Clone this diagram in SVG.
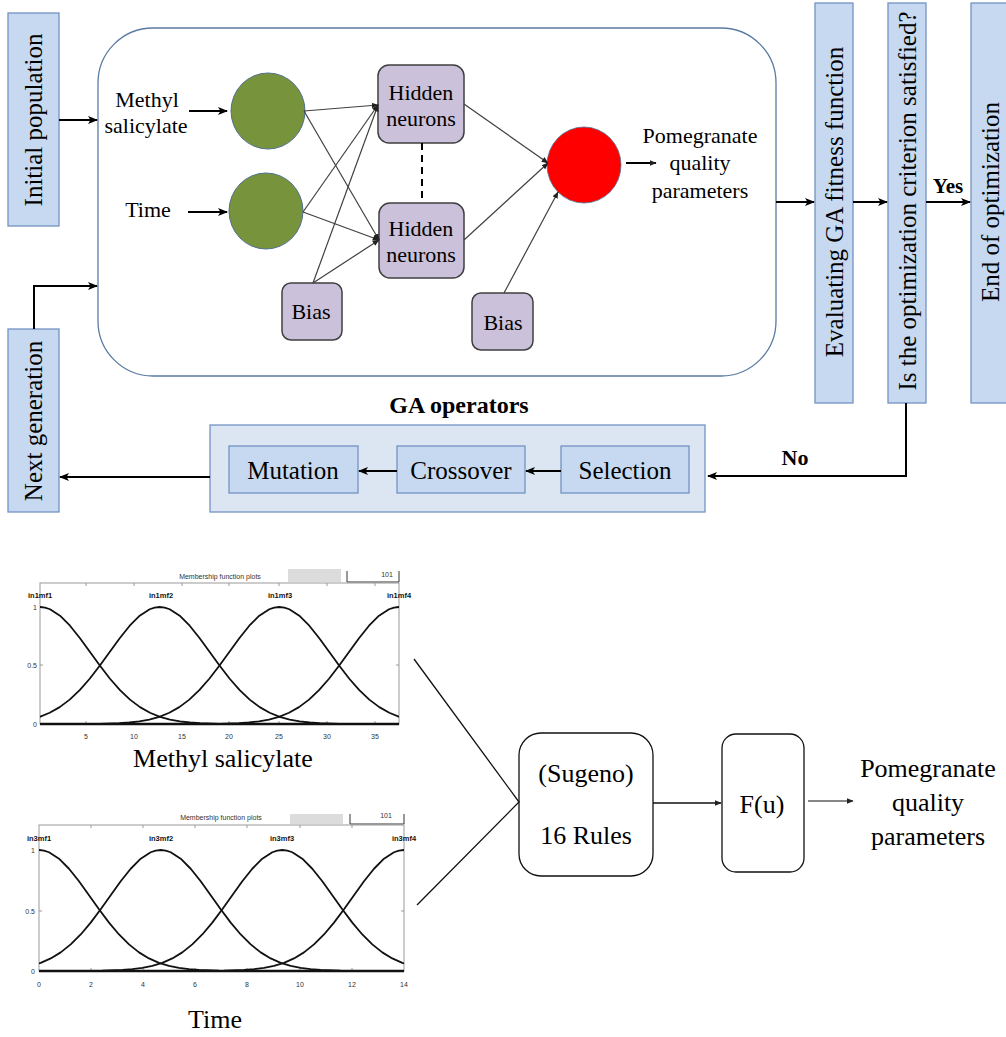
<svg xmlns="http://www.w3.org/2000/svg" width="1006" height="1037" viewBox="0 0 1006 1037">
<style>
.bx{fill:#c6d9f1;stroke:#7393c3;stroke-width:1.3}
.pb{fill:#ccc1da;stroke:#3f3f3f;stroke-width:1.5}
.t{font-family:"Liberation Serif","Times New Roman",serif;fill:#000}
.b{font-weight:bold}
.c{stroke:#000;stroke-width:2;fill:none}
.nn{stroke:#404040;stroke-width:1.2;fill:none}
.mf{fill:none;stroke:#111;stroke-width:1.8;stroke-linejoin:round}
.sm{font-family:"Liberation Sans",Arial,sans-serif;font-size:7px;fill:#333}
.ml{font-family:"Liberation Sans",Arial,sans-serif;font-size:7.5px;font-weight:bold;fill:#111}
.fr{stroke:#999;stroke-width:1;fill:none}
</style>
<defs>
<marker id="ah" viewBox="0 0 10 10" refX="9" refY="5" markerWidth="10" markerHeight="10" markerUnits="userSpaceOnUse" orient="auto"><path d="M0,1 L10,5 L0,9 L2.5,5 z" fill="#000"/></marker>
<marker id="as" viewBox="0 0 10 10" refX="9" refY="5" markerWidth="7" markerHeight="7" markerUnits="userSpaceOnUse" orient="auto"><path d="M0,1 L10,5 L0,9 z" fill="#222"/></marker>
<path id="g1" d="M-360,724 L-200,724 L-180,723.8 L-160,723.18 L-150,722.5 L-140,721.38 L-130,719.58 L-120,716.82 L-110,712.78 L-100,707.14 L-90,699.64 L-80,690.14 L-70,678.72 L-60,665.76 L-50,651.92 L-40,638.19 L-30,625.72 L-20,615.73 L-10,609.25 L-5,607.57 L0,607 L5,607.57 L10,609.25 L20,615.73 L30,625.72 L40,638.19 L50,651.92 L60,665.76 L70,678.72 L80,690.14 L90,699.64 L100,707.14 L110,712.78 L120,716.82 L130,719.58 L140,721.38 L150,722.5 L160,723.18 L180,723.8 L200,724 L360,724"/>
<path id="g2" d="M-370,971 L-200,970.93 L-180,970.72 L-160,970 L-150,969.2 L-140,967.9 L-130,965.87 L-120,962.82 L-110,958.42 L-100,952.37 L-90,944.4 L-80,934.46 L-70,922.61 L-60,909.29 L-50,895.19 L-40,881.3 L-30,868.75 L-20,858.72 L-10,852.24 L-5,850.57 L0,850 L5,850.57 L10,852.24 L20,858.72 L30,868.75 L40,881.3 L50,895.19 L60,909.29 L70,922.61 L80,934.46 L90,944.4 L100,952.37 L110,958.42 L120,962.82 L130,965.87 L140,967.9 L150,969.2 L160,970 L180,970.72 L200,970.93 L370,971"/>
<clipPath id="cp1"><rect x="40" y="598" width="359" height="129"/></clipPath>
<clipPath id="cp2"><rect x="39" y="842" width="365" height="132"/></clipPath>
</defs>
<rect width="1006" height="1037" fill="#fff"/>

<!-- Top GA/ANN flow -->
<g id="initial-population"><rect class="bx" x="8" y="13" width="51" height="213"/><text class="t" font-size="25" transform="translate(42,120) rotate(-90)" text-anchor="middle">Initial population</text></g>
<g id="next-generation"><rect class="bx" x="8" y="329" width="51" height="183"/><text class="t" font-size="25" transform="translate(42,421) rotate(-90)" text-anchor="middle">Next generation</text></g>
<g id="ann-frame"><rect x="98" y="28" width="678" height="348" rx="55" ry="55" fill="#fff" stroke="#5b7ba3" stroke-width="1.3"/></g>
<g id="label-methyl"><text class="t" font-size="22" text-anchor="middle"><tspan x="147" y="107">Methyl</tspan><tspan x="146" y="133">salicylate</tspan></text></g>
<g id="label-time"><text class="t" font-size="22" x="148" y="217" text-anchor="middle">Time</text></g>
<g id="input1"><ellipse cx="268" cy="111" rx="37" ry="38" fill="#77933c" stroke="#4f6f8f" stroke-width="1"/></g>
<g id="input2"><ellipse cx="266" cy="211" rx="37" ry="38" fill="#77933c" stroke="#4f6f8f" stroke-width="1"/></g>
<g id="hidden1"><rect class="pb" x="378" y="65" width="86" height="78" rx="11"/><text class="t" font-size="22" text-anchor="middle"><tspan x="421" y="100">Hidden</tspan><tspan x="421" y="126">neurons</tspan></text></g>
<g id="hidden2"><rect class="pb" x="379" y="203" width="85" height="75" rx="11"/><text class="t" font-size="22" text-anchor="middle"><tspan x="421" y="236">Hidden</tspan><tspan x="421" y="262">neurons</tspan></text></g>
<g id="bias1"><rect class="pb" x="282" y="283" width="60" height="57" rx="9"/><text class="t" font-size="22" x="311" y="319" text-anchor="middle">Bias</text></g>
<g id="bias2"><rect class="pb" x="472" y="293" width="61" height="57" rx="9"/><text class="t" font-size="22" x="503" y="330" text-anchor="middle">Bias</text></g>
<g id="output"><ellipse cx="584" cy="165" rx="37" ry="38" fill="#ff0000" stroke="#4f6f8f" stroke-width="0.8"/></g>
<g id="label-output"><text class="t" font-size="22" text-anchor="middle"><tspan x="700" y="143">Pomegranate</tspan><tspan x="700" y="170">quality</tspan><tspan x="700" y="198">parameters</tspan></text></g>
<g id="evaluating"><rect class="bx" x="815" y="3" width="38" height="400"/><text class="t" font-size="25" transform="translate(843,202) rotate(-90)" text-anchor="middle">Evaluating GA fitness function</text></g>
<g id="criterion"><rect class="bx" x="888" y="3" width="38" height="400"/><text class="t" font-size="25" transform="translate(916,201) rotate(-90)" text-anchor="middle">Is the optimization criterion satisfied?</text></g>
<g id="end"><rect class="bx" x="971" y="3" width="40" height="400"/><text class="t" font-size="25" transform="translate(999,202) rotate(-90)" text-anchor="middle">End of optimization</text></g>
<g id="label-yes"><text class="t b" font-size="21" x="948" y="193" text-anchor="middle">Yes</text></g>
<g id="label-no"><text class="t b" font-size="22" x="795" y="465" text-anchor="middle">No</text></g>
<g id="label-ga"><text class="t b" font-size="24" x="459" y="413" text-anchor="middle">GA operators</text></g>
<g id="ga-operators"><rect x="210" y="425" width="495" height="87" fill="#dce6f2" stroke="#7393c3" stroke-width="1.3"/></g>
<g id="mutation"><rect class="bx" x="229" y="446" width="129" height="47"/><text class="t" font-size="25" x="293" y="479" text-anchor="middle">Mutation</text></g>
<g id="crossover"><rect class="bx" x="397" y="446" width="128" height="47"/><text class="t" font-size="25" x="461" y="479" text-anchor="middle">Crossover</text></g>
<g id="selection"><rect class="bx" x="561" y="446" width="128" height="47"/><text class="t" font-size="25" x="625" y="479" text-anchor="middle">Selection</text></g>

<g id="connectors">
<line class="c" x1="59" y1="120" x2="97" y2="120" marker-end="url(#ah)"/>
<polyline class="c" points="34,329 34,286 97,286" marker-end="url(#ah)"/>
<line class="c" x1="189" y1="111" x2="227" y2="111" marker-end="url(#ah)"/>
<line class="c" x1="188" y1="212" x2="227" y2="212" marker-end="url(#ah)"/>
<line class="nn" x1="304" y1="111" x2="378" y2="105" marker-end="url(#as)"/>
<line class="nn" x1="304" y1="111" x2="379" y2="240" marker-end="url(#as)"/>
<line class="nn" x1="303" y1="212" x2="378" y2="105" marker-end="url(#as)"/>
<line class="nn" x1="303" y1="212" x2="379" y2="240" marker-end="url(#as)"/>
<line class="nn" x1="313" y1="283" x2="378" y2="105" marker-end="url(#as)"/>
<line class="nn" x1="313" y1="283" x2="379" y2="240" marker-end="url(#as)"/>
<line x1="422" y1="143" x2="422" y2="203" stroke="#000" stroke-width="2" stroke-dasharray="7,5"/>
<line class="nn" x1="464" y1="104" x2="548" y2="163" marker-end="url(#as)"/>
<line class="nn" x1="464" y1="240" x2="548" y2="163" marker-end="url(#as)"/>
<line class="nn" x1="504" y1="293" x2="558" y2="192" marker-end="url(#as)"/>
<line class="c" x1="626" y1="163" x2="656" y2="163" stroke-width="1.5" marker-end="url(#as)"/>
<line class="c" x1="776" y1="202" x2="814" y2="202" marker-end="url(#ah)"/>
<line class="c" x1="853" y1="202" x2="887" y2="202" marker-end="url(#ah)"/>
<line class="c" x1="926" y1="202" x2="970" y2="202" marker-end="url(#ah)"/>
<polyline class="c" points="906,403 906,476 708,476" marker-end="url(#ah)"/>
<line class="c" x1="561" y1="471" x2="526" y2="471" marker-end="url(#ah)"/>
<line class="c" x1="397" y1="471" x2="359" y2="471" marker-end="url(#ah)"/>
<line class="c" x1="210" y1="477" x2="60" y2="477" marker-end="url(#ah)"/>
</g>

<!-- Membership function plot 1 -->
<g id="mf-plot-methyl">
<text class="sm" x="220" y="579" text-anchor="middle" fill="#222">Membership function plots</text>
<rect x="288" y="569" width="53" height="13" fill="#dcdcdc"/>
<polyline points="347,571 347,582 399,582 399,571" fill="none" stroke="#333" stroke-width="1"/>
<text class="sm" x="387" y="577" text-anchor="middle" font-size="9">101</text>
<rect class="fr" x="40" y="583" width="359" height="141"/>
<path class="fr" d="M86,583v3M134,583v3M182,583v3M229,583v3M279,583v3M327,583v3M375,583v3M86,724v-3M134,724v-3M182,724v-3M229,724v-3M279,724v-3M327,724v-3M375,724v-3M40,607h3M40,665h3M399,607h-3M399,665h-3"/>
<text class="ml" x="28" y="598">in1mf1</text>
<text class="ml" x="161" y="598" text-anchor="middle">in1mf2</text>
<text class="ml" x="280" y="598" text-anchor="middle">in1mf3</text>
<text class="ml" x="399" y="598" text-anchor="middle">in1mf4</text>
<text class="sm" x="37" y="610" text-anchor="end">1</text>
<text class="sm" x="37" y="668" text-anchor="end">0.5</text>
<text class="sm" x="37" y="727" text-anchor="end">0</text>
<g class="sm" text-anchor="middle"><text x="86" y="739">5</text><text x="134" y="739">10</text><text x="182" y="739">15</text><text x="229" y="739">20</text><text x="279" y="739">25</text><text x="327" y="739">30</text><text x="375" y="739">35</text></g>
<g clip-path="url(#cp1)">
<use href="#g1" class="mf" transform="translate(40,0)"/>
<use href="#g1" class="mf" transform="translate(159.7,0)"/>
<use href="#g1" class="mf" transform="translate(279.3,0)"/>
<use href="#g1" class="mf" transform="translate(399,0)"/>
</g>
<line x1="40" y1="724" x2="399" y2="724" stroke="#111" stroke-width="2.5"/>
<text class="t" font-size="26" x="223" y="767" text-anchor="middle">Methyl salicylate</text>
</g>

<!-- Membership function plot 2 -->
<g id="mf-plot-time">
<text class="sm" x="221" y="820" text-anchor="middle" fill="#222">Membership function plots</text>
<rect x="290" y="814" width="53" height="10" fill="#dcdcdc"/>
<polyline points="350,814 350,824 404,824 404,814" fill="none" stroke="#333" stroke-width="1"/>
<text class="sm" x="386" y="818" text-anchor="middle" font-size="9">101</text>
<rect class="fr" x="39" y="825" width="365" height="146"/>
<path class="fr" d="M91,825v3M143,825v3M195,825v3M247,825v3M300,825v3M352,825v3M91,971v-3M143,971v-3M195,971v-3M247,971v-3M300,971v-3M352,971v-3M39,850h3M39,911h3M404,850h-3M404,911h-3"/>
<text class="ml" x="39" y="841" text-anchor="middle">in3mf1</text>
<text class="ml" x="161" y="841" text-anchor="middle">in3mf2</text>
<text class="ml" x="282" y="841" text-anchor="middle">in3mf3</text>
<text class="ml" x="404" y="841" text-anchor="middle">in3mf4</text>
<text class="sm" x="35" y="853" text-anchor="end">1</text>
<text class="sm" x="35" y="914" text-anchor="end">0.5</text>
<text class="sm" x="35" y="974" text-anchor="end">0</text>
<g class="sm" text-anchor="middle"><text x="39" y="987">0</text><text x="91" y="987">2</text><text x="143" y="987">4</text><text x="195" y="987">6</text><text x="247" y="987">8</text><text x="300" y="987">10</text><text x="352" y="987">12</text><text x="404" y="987">14</text></g>
<g clip-path="url(#cp2)">
<use href="#g2" class="mf" transform="translate(39,0)"/>
<use href="#g2" class="mf" transform="translate(160.7,0)"/>
<use href="#g2" class="mf" transform="translate(282.3,0)"/>
<use href="#g2" class="mf" transform="translate(404,0)"/>
</g>
<line x1="39" y1="971" x2="404" y2="971" stroke="#111" stroke-width="2.5"/>
<text class="t" font-size="26" x="215" y="1028" text-anchor="middle">Time</text>
</g>

<!-- Fuzzy part -->
<g id="sugeno"><rect x="519" y="733" width="134" height="143" rx="22" fill="#fff" stroke="#111" stroke-width="1.3"/><text class="t" font-size="26" text-anchor="middle"><tspan x="586" y="782">(Sugeno)</tspan><tspan x="586" y="844">16 Rules</tspan></text></g>
<g id="fu"><rect x="722" y="734" width="82" height="138" rx="14" fill="#fff" stroke="#111" stroke-width="1.3"/><text class="t" font-size="26" x="762" y="813" text-anchor="middle">F(u)</text></g>
<g id="label-fuzzy-output"><text class="t" font-size="26" text-anchor="middle"><tspan x="928" y="777">Pomegranate</tspan><tspan x="928" y="811">quality</tspan><tspan x="928" y="845">parameters</tspan></text></g>
<g id="fuzzy-connectors">
<polyline points="414,659 519,802 417,905" fill="none" stroke="#111" stroke-width="1.3"/>
<line x1="653" y1="803" x2="721" y2="803" stroke="#111" stroke-width="1.5" marker-end="url(#as)"/>
<line x1="808" y1="801" x2="853" y2="801" stroke="#111" stroke-width="1.2" marker-end="url(#as)"/>
</g>
</svg>
